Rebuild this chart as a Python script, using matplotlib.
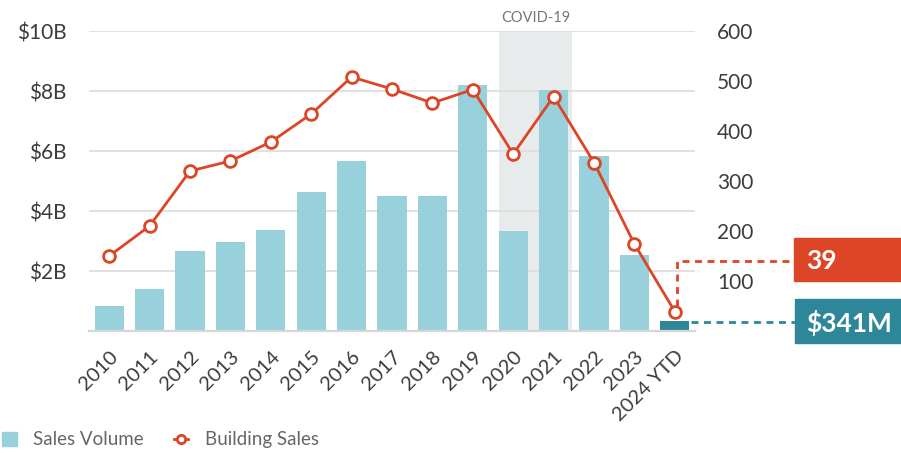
import matplotlib.pyplot as plt
from matplotlib.lines import Line2D
from matplotlib.patches import Rectangle, Patch

plt.rcParams['font.family'] = ['Lato', 'DejaVu Sans']

# data
years = ['2010', '2011', '2012', '2013', '2014', '2015', '2016', '2017',
         '2018', '2019', '2020', '2021', '2022', '2023', '2024 YTD']
volume_b = [0.82, 1.40, 2.67, 2.97, 3.37, 4.63, 5.67, 4.50,
            4.50, 8.20, 3.33, 8.03, 5.83, 2.53, 0.341]
building_sales = [150, 210, 320, 340, 378, 434, 508, 484,
                  456, 483, 354, 469, 337, 174, 39]
left_ticks = [2, 4, 6, 8, 10]
left_labels = ['$2B', '$4B', '$6B', '$8B', '$10B']
right_ticks = [100, 200, 300, 400, 500, 600]

bar_col = '#98d0db'
last_col = '#2e8799'
line_col = '#dc4526'
text_col = '#3c3c3c'

fig = plt.figure(figsize=(9.01, 4.55), dpi=100)
ax = fig.add_axes([89/901, 124/455, 606/901, 300/455])
ax2 = ax.twinx()

x = list(range(len(years)))

# covid shading behind the 2020-2021 bars
ax.axvspan(9.64, 11.45, color='#e8ebec', zorder=0, lw=0)
ax.text(10.55, 10.2, 'COVID-19', ha='center', va='bottom', fontsize=10.5,
        color='#777777')

colors = [bar_col] * (len(years) - 1) + [last_col]
ax.bar(x, volume_b, width=0.72, color=colors, zorder=2)

ax.set_xlim(-0.5, 14.5)
ax.set_ylim(0, 10)
ax.set_yticks(left_ticks)
ax.set_yticklabels(left_labels)
ax.yaxis.grid(True, color='#dedede', lw=1.3, zorder=1)
ax.set_axisbelow(True)
ax.tick_params(axis='y', length=0, pad=16, labelsize=15, labelcolor=text_col)
ax.set_xticks(x)
ax.set_xticklabels(years, rotation=45, ha='right', rotation_mode='anchor')
ax.tick_params(axis='x', length=0, pad=12, labelsize=14.5, labelcolor=text_col)
for s in ['top', 'right', 'left']:
    ax.spines[s].set_visible(False)
ax.spines['bottom'].set_color('#d6d6d6')
ax.spines['bottom'].set_linewidth(1.6)

ax2.plot(x, building_sales, color=line_col, lw=2, marker='o', ms=8.5,
         mfc='white', mec=line_col, mew=2, zorder=5)
ax2.set_ylim(0, 600)
ax2.set_yticks(right_ticks)
ax2.tick_params(axis='y', length=0, pad=16, labelsize=15, labelcolor=text_col)
for s in ax2.spines.values():
    s.set_visible(False)

# callout leaders
ax2.plot([14.05, 14.05, 16.97], [12 + building_sales[-1], 140, 140],
         color=line_col, lw=2, ls=(0, (2.5, 2)), clip_on=False, zorder=4)
ax.plot([14.4, 16.97], [volume_b[-1] * 0.95 - 0.02, volume_b[-1] * 0.95 - 0.02],
        color=last_col, lw=2, ls=(0, (2.5, 2)), clip_on=False, zorder=4)

# callout boxes
fig.patches.append(Rectangle((794/901, 1 - 281/455), 107/901, 43/455,
                             transform=fig.transFigure, color=line_col))
fig.patches.append(Rectangle((795/901, 1 - 343/455), 106/901, 44/455,
                             transform=fig.transFigure, color=last_col))
fig.text(806/901, 1 - 261/455, str(building_sales[-1]), color='white',
         fontsize=19, fontweight='bold', va='center', ha='left')
fig.text(806/901, 1 - 323/455, '$341M', color='white',
         fontsize=19, fontweight='bold', va='center', ha='left')

handles = [Patch(color=bar_col, label='Sales Volume'),
           Line2D([], [], color=line_col, lw=2, marker='o', ms=6, mfc='white',
                  mec=line_col, mew=2, label='Building Sales')]
fig.legend(handles=handles, loc='center left', bbox_to_anchor=(-0.016, 0.033),
           ncol=2, frameon=False, fontsize=13.5, labelcolor='#666666',
           handlelength=0.75, handleheight=0.75, columnspacing=1.6, handletextpad=0.9)

fig.savefig('out.png', dpi=100)
